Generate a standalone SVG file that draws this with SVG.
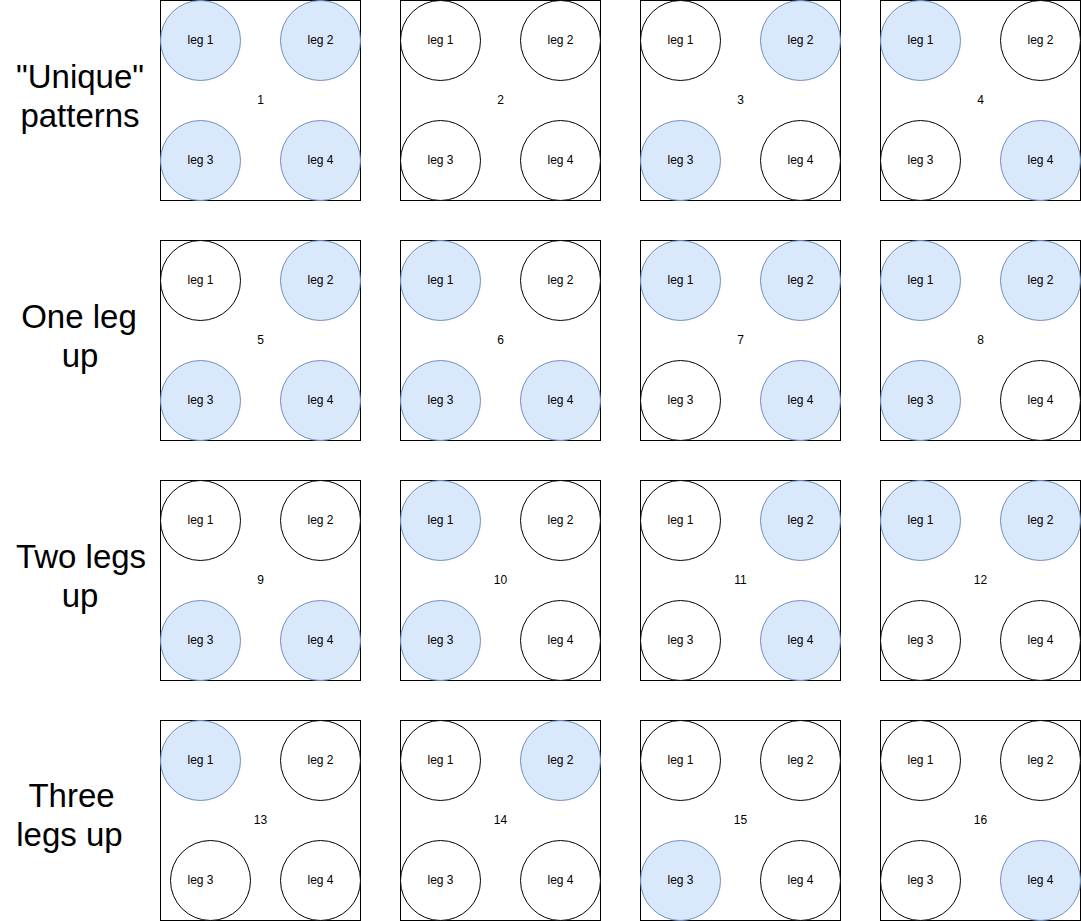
<svg xmlns="http://www.w3.org/2000/svg" width="1081" height="921" viewBox="0 0 1081 921">
<style>
.box{fill:#ffffff;stroke:#000000;stroke-width:1}
.leg{fill:#ffffff;stroke:#000000;stroke-width:1}
.up{fill:#dae8fc;stroke:#6c8ebf;stroke-width:1}
.t{font-family:"Liberation Sans",Arial,Helvetica,sans-serif;font-size:12px;fill:#000000;text-anchor:middle}
.big{font-family:"Liberation Sans",Arial,Helvetica,sans-serif;font-size:33px;fill:#000000;text-anchor:middle}
</style>
<rect width="1081" height="921" fill="#ffffff"/>
<g id="row-labels">
<text class="big" x="80" y="88">"Unique"</text>
<text class="big" x="80" y="127">patterns</text>
<text class="big" x="79" y="328">One leg</text>
<text class="big" x="80" y="367">up</text>
<text class="big" x="81" y="568">Two legs</text>
<text class="big" x="80" y="607">up</text>
<text class="big" x="71.5" y="807">Three</text>
<text class="big" x="69.5" y="846">legs up</text>
</g>
<g id="connectors"></g>

<g id="box1" transform="translate(160,0)">
<rect class="box" x="0.5" y="0.5" width="200" height="200"/>
<text class="t" x="100.5" y="104">1</text>
<circle class="up" cx="40.5" cy="40.5" r="40"/><text class="t" x="40.5" y="44">leg 1</text>
<circle class="up" cx="160.5" cy="40.5" r="40"/><text class="t" x="160.5" y="44">leg 2</text>
<circle class="up" cx="40.5" cy="160.5" r="40"/><text class="t" x="40.5" y="164">leg 3</text>
<circle class="up" cx="160.5" cy="160.5" r="40"/><text class="t" x="160.5" y="164">leg 4</text>
</g>
<g id="box2" transform="translate(400,0)">
<rect class="box" x="0.5" y="0.5" width="200" height="200"/>
<text class="t" x="100.5" y="104">2</text>
<circle class="leg" cx="40.5" cy="40.5" r="40"/><text class="t" x="40.5" y="44">leg 1</text>
<circle class="leg" cx="160.5" cy="40.5" r="40"/><text class="t" x="160.5" y="44">leg 2</text>
<circle class="leg" cx="40.5" cy="160.5" r="40"/><text class="t" x="40.5" y="164">leg 3</text>
<circle class="leg" cx="160.5" cy="160.5" r="40"/><text class="t" x="160.5" y="164">leg 4</text>
</g>
<g id="box3" transform="translate(640,0)">
<rect class="box" x="0.5" y="0.5" width="200" height="200"/>
<text class="t" x="100.5" y="104">3</text>
<circle class="leg" cx="40.5" cy="40.5" r="40"/><text class="t" x="40.5" y="44">leg 1</text>
<circle class="up" cx="160.5" cy="40.5" r="40"/><text class="t" x="160.5" y="44">leg 2</text>
<circle class="up" cx="40.5" cy="160.5" r="40"/><text class="t" x="40.5" y="164">leg 3</text>
<circle class="leg" cx="160.5" cy="160.5" r="40"/><text class="t" x="160.5" y="164">leg 4</text>
</g>
<g id="box4" transform="translate(880,0)">
<rect class="box" x="0.5" y="0.5" width="200" height="200"/>
<text class="t" x="100.5" y="104">4</text>
<circle class="up" cx="40.5" cy="40.5" r="40"/><text class="t" x="40.5" y="44">leg 1</text>
<circle class="leg" cx="160.5" cy="40.5" r="40"/><text class="t" x="160.5" y="44">leg 2</text>
<circle class="leg" cx="40.5" cy="160.5" r="40"/><text class="t" x="40.5" y="164">leg 3</text>
<circle class="up" cx="160.5" cy="160.5" r="40"/><text class="t" x="160.5" y="164">leg 4</text>
</g>

<g id="box5" transform="translate(160,240)">
<rect class="box" x="0.5" y="0.5" width="200" height="200"/>
<text class="t" x="100.5" y="104">5</text>
<circle class="leg" cx="40.5" cy="40.5" r="40"/><text class="t" x="40.5" y="44">leg 1</text>
<circle class="up" cx="160.5" cy="40.5" r="40"/><text class="t" x="160.5" y="44">leg 2</text>
<circle class="up" cx="40.5" cy="160.5" r="40"/><text class="t" x="40.5" y="164">leg 3</text>
<circle class="up" cx="160.5" cy="160.5" r="40"/><text class="t" x="160.5" y="164">leg 4</text>
</g>
<g id="box6" transform="translate(400,240)">
<rect class="box" x="0.5" y="0.5" width="200" height="200"/>
<text class="t" x="100.5" y="104">6</text>
<circle class="up" cx="40.5" cy="40.5" r="40"/><text class="t" x="40.5" y="44">leg 1</text>
<circle class="leg" cx="160.5" cy="40.5" r="40"/><text class="t" x="160.5" y="44">leg 2</text>
<circle class="up" cx="40.5" cy="160.5" r="40"/><text class="t" x="40.5" y="164">leg 3</text>
<circle class="up" cx="160.5" cy="160.5" r="40"/><text class="t" x="160.5" y="164">leg 4</text>
</g>
<g id="box7" transform="translate(640,240)">
<rect class="box" x="0.5" y="0.5" width="200" height="200"/>
<text class="t" x="100.5" y="104">7</text>
<circle class="up" cx="40.5" cy="40.5" r="40"/><text class="t" x="40.5" y="44">leg 1</text>
<circle class="up" cx="160.5" cy="40.5" r="40"/><text class="t" x="160.5" y="44">leg 2</text>
<circle class="leg" cx="40.5" cy="160.5" r="40"/><text class="t" x="40.5" y="164">leg 3</text>
<circle class="up" cx="160.5" cy="160.5" r="40"/><text class="t" x="160.5" y="164">leg 4</text>
</g>
<g id="box8" transform="translate(880,240)">
<rect class="box" x="0.5" y="0.5" width="200" height="200"/>
<text class="t" x="100.5" y="104">8</text>
<circle class="up" cx="40.5" cy="40.5" r="40"/><text class="t" x="40.5" y="44">leg 1</text>
<circle class="up" cx="160.5" cy="40.5" r="40"/><text class="t" x="160.5" y="44">leg 2</text>
<circle class="up" cx="40.5" cy="160.5" r="40"/><text class="t" x="40.5" y="164">leg 3</text>
<circle class="leg" cx="160.5" cy="160.5" r="40"/><text class="t" x="160.5" y="164">leg 4</text>
</g>

<g id="box9" transform="translate(160,480)">
<rect class="box" x="0.5" y="0.5" width="200" height="200"/>
<text class="t" x="100.5" y="104">9</text>
<circle class="leg" cx="40.5" cy="40.5" r="40"/><text class="t" x="40.5" y="44">leg 1</text>
<circle class="leg" cx="160.5" cy="40.5" r="40"/><text class="t" x="160.5" y="44">leg 2</text>
<circle class="up" cx="40.5" cy="160.5" r="40"/><text class="t" x="40.5" y="164">leg 3</text>
<circle class="up" cx="160.5" cy="160.5" r="40"/><text class="t" x="160.5" y="164">leg 4</text>
</g>
<g id="box10" transform="translate(400,480)">
<rect class="box" x="0.5" y="0.5" width="200" height="200"/>
<text class="t" x="100.5" y="104">10</text>
<circle class="up" cx="40.5" cy="40.5" r="40"/><text class="t" x="40.5" y="44">leg 1</text>
<circle class="leg" cx="160.5" cy="40.5" r="40"/><text class="t" x="160.5" y="44">leg 2</text>
<circle class="up" cx="40.5" cy="160.5" r="40"/><text class="t" x="40.5" y="164">leg 3</text>
<circle class="leg" cx="160.5" cy="160.5" r="40"/><text class="t" x="160.5" y="164">leg 4</text>
</g>
<g id="box11" transform="translate(640,480)">
<rect class="box" x="0.5" y="0.5" width="200" height="200"/>
<text class="t" x="100.5" y="104">11</text>
<circle class="leg" cx="40.5" cy="40.5" r="40"/><text class="t" x="40.5" y="44">leg 1</text>
<circle class="up" cx="160.5" cy="40.5" r="40"/><text class="t" x="160.5" y="44">leg 2</text>
<circle class="leg" cx="40.5" cy="160.5" r="40"/><text class="t" x="40.5" y="164">leg 3</text>
<circle class="up" cx="160.5" cy="160.5" r="40"/><text class="t" x="160.5" y="164">leg 4</text>
</g>
<g id="box12" transform="translate(880,480)">
<rect class="box" x="0.5" y="0.5" width="200" height="200"/>
<text class="t" x="100.5" y="104">12</text>
<circle class="up" cx="40.5" cy="40.5" r="40"/><text class="t" x="40.5" y="44">leg 1</text>
<circle class="up" cx="160.5" cy="40.5" r="40"/><text class="t" x="160.5" y="44">leg 2</text>
<circle class="leg" cx="40.5" cy="160.5" r="40"/><text class="t" x="40.5" y="164">leg 3</text>
<circle class="leg" cx="160.5" cy="160.5" r="40"/><text class="t" x="160.5" y="164">leg 4</text>
</g>

<g id="box13" transform="translate(160,720)">
<rect class="box" x="0.5" y="0.5" width="200" height="200"/>
<text class="t" x="100.5" y="104">13</text>
<circle class="up" cx="40.5" cy="40.5" r="40"/><text class="t" x="40.5" y="44">leg 1</text>
<circle class="leg" cx="160.5" cy="40.5" r="40"/><text class="t" x="160.5" y="44">leg 2</text>
<circle class="leg" cx="50.5" cy="160.5" r="40"/><text class="t" x="40.5" y="164">leg 3</text>
<circle class="leg" cx="160.5" cy="160.5" r="40"/><text class="t" x="160.5" y="164">leg 4</text>
</g>
<g id="box14" transform="translate(400,720)">
<rect class="box" x="0.5" y="0.5" width="200" height="200"/>
<text class="t" x="100.5" y="104">14</text>
<circle class="leg" cx="40.5" cy="40.5" r="40"/><text class="t" x="40.5" y="44">leg 1</text>
<circle class="up" cx="160.5" cy="40.5" r="40"/><text class="t" x="160.5" y="44">leg 2</text>
<circle class="leg" cx="40.5" cy="160.5" r="40"/><text class="t" x="40.5" y="164">leg 3</text>
<circle class="leg" cx="160.5" cy="160.5" r="40"/><text class="t" x="160.5" y="164">leg 4</text>
</g>
<g id="box15" transform="translate(640,720)">
<rect class="box" x="0.5" y="0.5" width="200" height="200"/>
<text class="t" x="100.5" y="104">15</text>
<circle class="leg" cx="40.5" cy="40.5" r="40"/><text class="t" x="40.5" y="44">leg 1</text>
<circle class="leg" cx="160.5" cy="40.5" r="40"/><text class="t" x="160.5" y="44">leg 2</text>
<circle class="up" cx="40.5" cy="160.5" r="40"/><text class="t" x="40.5" y="164">leg 3</text>
<circle class="leg" cx="160.5" cy="160.5" r="40"/><text class="t" x="160.5" y="164">leg 4</text>
</g>
<g id="box16" transform="translate(880,720)">
<rect class="box" x="0.5" y="0.5" width="200" height="200"/>
<text class="t" x="100.5" y="104">16</text>
<circle class="leg" cx="40.5" cy="40.5" r="40"/><text class="t" x="40.5" y="44">leg 1</text>
<circle class="leg" cx="160.5" cy="40.5" r="40"/><text class="t" x="160.5" y="44">leg 2</text>
<circle class="leg" cx="40.5" cy="160.5" r="40"/><text class="t" x="40.5" y="164">leg 3</text>
<circle class="up" cx="160.5" cy="160.5" r="40"/><text class="t" x="160.5" y="164">leg 4</text>
</g>
</svg>
